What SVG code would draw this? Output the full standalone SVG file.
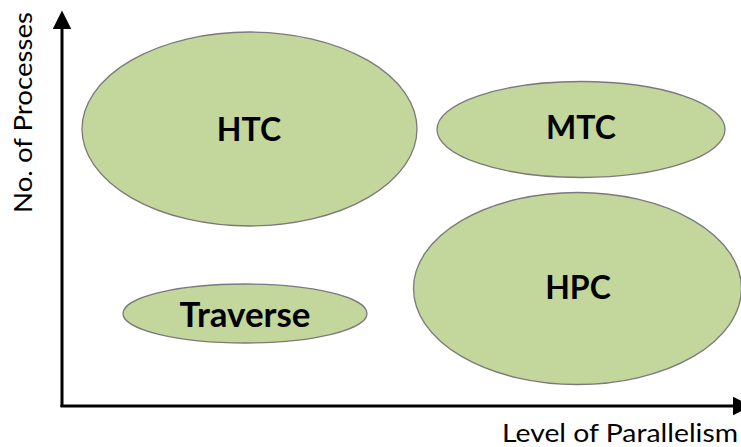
<svg xmlns="http://www.w3.org/2000/svg" width="741" height="447" viewBox="0 0 741 447">
  <style>
    .blob { fill: #c3d69b; stroke: #7a7a7a; stroke-width: 1.3; }
    .lbl { font-family: Lato, "Open Sans", "Liberation Sans", sans-serif; font-weight: bold; fill: #000; text-anchor: middle; }
    .axis-title { font-family: Lato, "Open Sans", "Liberation Sans", sans-serif; font-size: 25px; fill: #000; }
    .axis { fill: none; stroke: #000; stroke-width: 3; }
  </style>
  <defs>
    <marker id="arrow" viewBox="0 0 10 10" refX="0" refY="5" markerWidth="6.2" markerHeight="6.2" markerUnits="strokeWidth" orient="auto">
      <path d="M0,0 L10,5 L0,10 Z" fill="#000"/>
    </marker>
  </defs>

  <g id="connectors">
    <!-- vertical axis (up) -->
    <path class="axis" d="M62,407 L62,29" marker-end="url(#arrow)"/>
    <!-- horizontal axis (right) -->
    <path class="axis" d="M60.5,406 L733,406" marker-end="url(#arrow)"/>
  </g>

  <g id="htc">
    <ellipse class="blob" cx="249.5" cy="129" rx="167.5" ry="97"/>
    <text class="lbl" x="249" y="141" font-size="32">HTC</text>
  </g>

  <g id="mtc">
    <ellipse class="blob" cx="581" cy="129.5" rx="144" ry="48"/>
    <text class="lbl" x="581" y="139" font-size="32">MTC</text>
  </g>

  <g id="hpc">
    <ellipse class="blob" cx="577.5" cy="288.5" rx="164" ry="96"/>
    <text class="lbl" x="578" y="299" font-size="32">HPC</text>
  </g>

  <g id="traverse">
    <ellipse class="blob" cx="245" cy="313.5" rx="122" ry="29.5"/>
    <text class="lbl" x="245" y="327" font-size="35" textLength="131" lengthAdjust="spacingAndGlyphs">Traverse</text>
  </g>

  <g id="axis-labels">
    <text class="axis-title" x="502" y="442" textLength="236" lengthAdjust="spacingAndGlyphs">Level of Parallelism</text>
    <text class="axis-title" transform="translate(32,112.5) rotate(-90)" text-anchor="middle" textLength="201" lengthAdjust="spacingAndGlyphs">No. of Processes</text>
  </g>
</svg>
